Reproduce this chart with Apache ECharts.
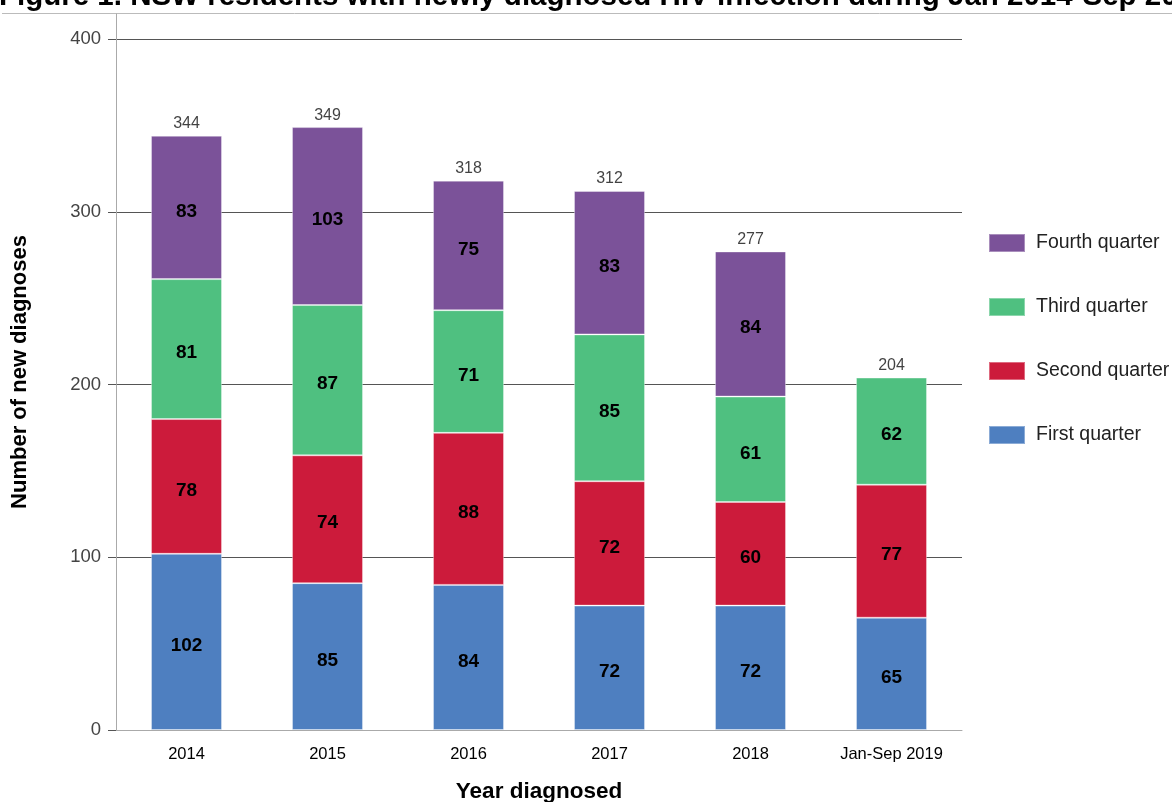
<!DOCTYPE html>
<html>
<head>
<meta charset="utf-8">
<script src="https://cdn.jsdelivr.net/npm/echarts@6/dist/echarts.min.js"></script>
<style>html,body{margin:0;padding:0;background:#fff;}#c{width:1172px;height:802px;}</style>
</head>
<body>
<div id="c"></div>
<script>
const categories = ['2014', '2015', '2016', '2017', '2018', 'Jan-Sep 2019'];
const firstQuarter = [102, 85, 84, 72, 72, 65];
const secondQuarter = [78, 74, 88, 72, 60, 77];
const thirdQuarter = [81, 87, 71, 85, 61, 62];
const fourthQuarter = [83, 103, 75, 83, 84, null];
const totals = [344, 349, 318, 312, 277, 204];
const yTicks = [0, 100, 200, 300, 400];

const chart = echarts.init(document.getElementById('c'));
const segLabel = {
  show: true, position: 'inside', color: '#000', fontWeight: 'bold',
  fontFamily: 'Liberation Sans', fontSize: 19, offset: [0, 4]
};
function seg(name, data, color) {
  return {
    name: name, type: 'bar', stack: 'q', data: data, barWidth: 71,
    itemStyle: { color: color, borderColor: 'rgba(255,255,255,0.35)', borderWidth: 1 },
    label: segLabel
  };
}
chart.setOption({
  animation: false,
  title: {
    text: 'Figure 1. NSW residents with newly diagnosed HIV infection during Jan 2014-Sep 2019',
    left: -1, top: -18, padding: 0,
    textStyle: { fontFamily: 'Liberation Sans', fontWeight: 'bold', fontSize: 29.5, color: '#000' }
  },
  graphic: [
    { type: 'line', shape: { x1: 2, y1: 13.5, x2: 1172, y2: 13.5 }, style: { stroke: '#bbb', lineWidth: 1 }, silent: true },
    { type: 'line', shape: { x1: 116.5, y1: 13.5, x2: 116.5, y2: 40 }, style: { stroke: '#aaa', lineWidth: 1 }, silent: true },
    { type: 'text', x: 20, y: 372, rotation: Math.PI / 2,
      style: { text: 'Number of new diagnoses', fontFamily: 'Liberation Sans', fontWeight: 'bold',
        fontSize: 22, fill: '#000', align: 'center', verticalAlign: 'middle' } }
  ],
  grid: { left: 116, right: 210, top: 39, bottom: 72, containLabel: false, outerBoundsMode: 'none' },
  legend: {
    orient: 'vertical', left: 988, top: 233, itemGap: 44, padding: 0,
    itemWidth: 36, itemHeight: 18, icon: 'rect',
    data: ['Fourth quarter', 'Third quarter', 'Second quarter', 'First quarter'],
    textStyle: { fontFamily: 'Liberation Sans', fontSize: 19.5, color: '#222', padding: [0, 0, 0, 6] }
  },
  xAxis: {
    type: 'category', data: categories,
    name: 'Year diagnosed', nameLocation: 'middle', nameGap: 50,
    nameTextStyle: { fontFamily: 'Liberation Sans', fontWeight: 'bold', fontSize: 22.5, color: '#000' },
    axisLine: { lineStyle: { color: '#aaa', width: 1 } },
    axisTick: { show: false },
    axisLabel: { fontFamily: 'Liberation Sans', fontSize: 16.5, color: '#000', margin: 16 }
  },
  yAxis: {
    type: 'value', min: 0, max: 400, interval: 100,
    axisLine: { show: true, lineStyle: { color: '#aaa', width: 1 } },
    axisTick: { show: true, length: 8, lineStyle: { color: '#555' } },
    axisLabel: { fontFamily: 'Liberation Sans', fontSize: 18.5, color: '#444', margin: 15,
      formatter: v => yTicks.includes(v) ? String(v) : '' },
    splitLine: { show: true, lineStyle: { color: '#555', width: 1 } }
  },
  series: [
    seg('First quarter', firstQuarter, '#4E7FC0'),
    seg('Second quarter', secondQuarter, '#CC1B3B'),
    seg('Third quarter', thirdQuarter, '#4FC080'),
    seg('Fourth quarter', fourthQuarter, '#7B5299'),
    {
      name: 'Total', type: 'scatter', data: totals, symbolSize: 0,
      label: { show: true, position: 'top', distance: 4, color: '#111',
        fontFamily: 'Liberation Sans', fontSize: 16 },
      tooltip: { show: false }, z: 5
    }
  ]
});
</script>
</body>
</html>
